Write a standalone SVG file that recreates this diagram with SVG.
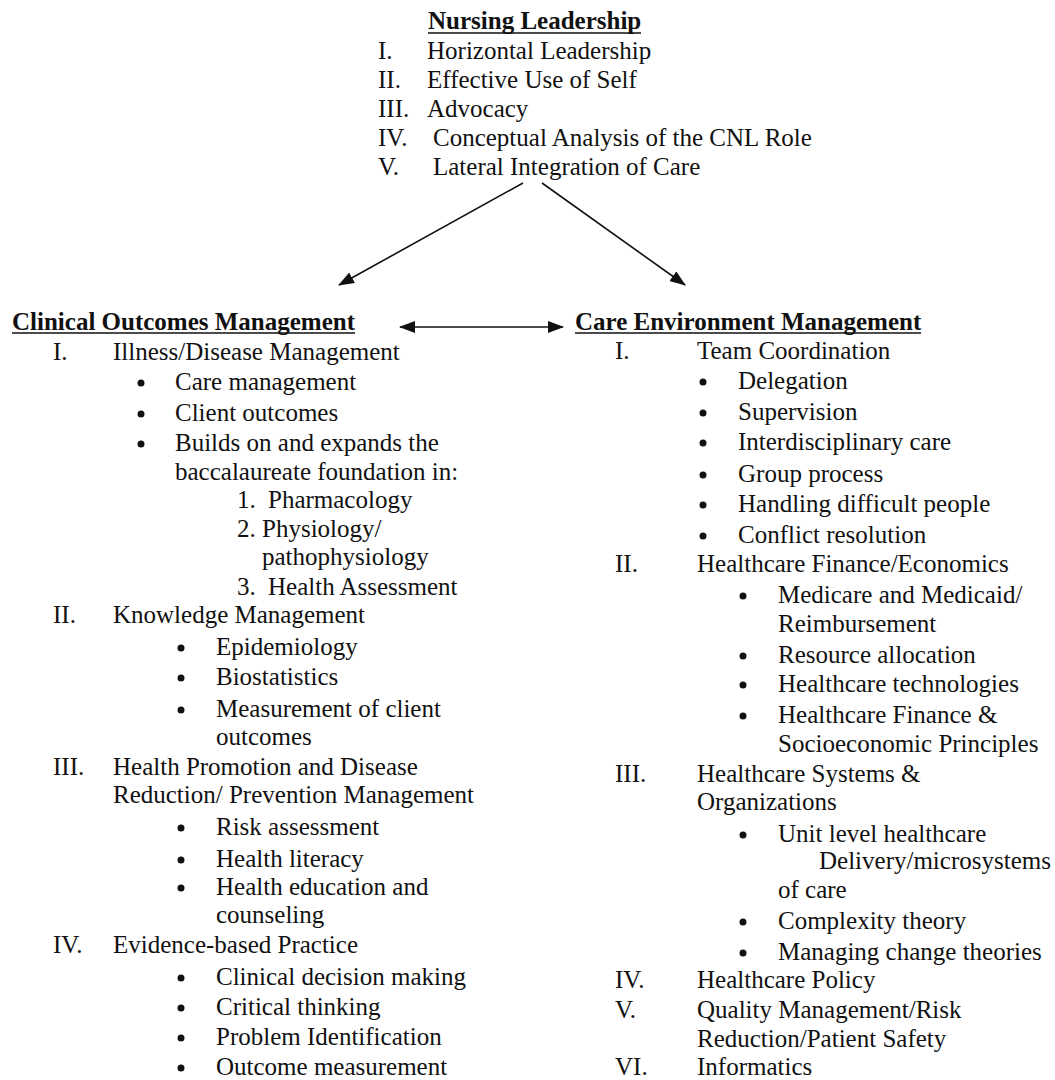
<svg xmlns="http://www.w3.org/2000/svg" width="1055" height="1080" viewBox="0 0 1055 1080">
<style>
text{font-family:"Liberation Serif","Times New Roman",serif;font-size:25px;fill:#111}
.b{font-weight:bold}
.ul{stroke:#111;stroke-width:1.6}
.con{stroke:#111;stroke-width:1.6;fill:none}
.dot{fill:#111}
</style>
<defs>
<marker id="ah" markerUnits="userSpaceOnUse" markerWidth="16" markerHeight="12" refX="15" refY="6" orient="auto-start-reverse">
<path d="M0,0 L16,6 L0,12 Z" fill="#111"/>
</marker>
</defs>
<rect width="1055" height="1080" fill="#fff"/>
<g id="connectors">
<line class="con" x1="523" y1="183" x2="339" y2="285" marker-end="url(#ah)"/>
<line class="con" x1="542" y1="183" x2="685" y2="285" marker-end="url(#ah)"/>
<line class="con" x1="400" y1="327" x2="563" y2="327" marker-start="url(#ah)" marker-end="url(#ah)"/>
</g>
<g id="nursing-leadership">
<text class="b" x="428" y="29">Nursing Leadership</text>
<line class="ul" x1="428" y1="33" x2="641" y2="33"/>
<text x="378" y="59">I.</text><text x="427" y="59">Horizontal Leadership</text>
<text x="378" y="88">II.</text><text x="427" y="88">Effective Use of Self</text>
<text x="378" y="117">III.</text><text x="427" y="117">Advocacy</text>
<text x="378" y="146">IV.</text><text x="433" y="146">Conceptual Analysis of the CNL Role</text>
<text x="378" y="175">V.</text><text x="433" y="175">Lateral Integration of Care</text>
</g>
<g id="clinical-outcomes-management">
<text class="b" x="12" y="330">Clinical Outcomes Management</text>
<line class="ul" x1="12" y1="333" x2="355" y2="333"/>
<text x="53" y="360">I.</text><text x="113" y="360">Illness/Disease Management</text>
<circle class="dot" cx="141" cy="383" r="3.5"/><text x="175" y="390">Care management</text>
<circle class="dot" cx="141" cy="414" r="3.5"/><text x="175" y="421">Client outcomes</text>
<circle class="dot" cx="141" cy="444" r="3.5"/><text x="175" y="451">Builds on and expands the</text>
<text x="175" y="480">baccalaureate foundation in:</text>
<text x="237" y="508">1.</text><text x="268" y="508">Pharmacology</text>
<text x="237" y="537">2.</text><text x="262" y="537">Physiology/</text>
<text x="262" y="565">pathophysiology</text>
<text x="237" y="595">3.</text><text x="268" y="595">Health Assessment</text>
<text x="53" y="623">II.</text><text x="113" y="623">Knowledge Management</text>
<circle class="dot" cx="181" cy="648" r="3.5"/><text x="216" y="655">Epidemiology</text>
<circle class="dot" cx="181" cy="678" r="3.5"/><text x="216" y="685">Biostatistics</text>
<circle class="dot" cx="181" cy="710" r="3.5"/><text x="216" y="717">Measurement of client</text>
<text x="216" y="745">outcomes</text>
<text x="53" y="775">III.</text><text x="113" y="775">Health Promotion and Disease</text>
<text x="113" y="803">Reduction/ Prevention Management</text>
<circle class="dot" cx="181" cy="828" r="3.5"/><text x="216" y="835">Risk assessment</text>
<circle class="dot" cx="181" cy="860" r="3.5"/><text x="216" y="867">Health literacy</text>
<circle class="dot" cx="181" cy="888" r="3.5"/><text x="216" y="895">Health education and</text>
<text x="216" y="923">counseling</text>
<text x="53" y="953">IV.</text><text x="113" y="953">Evidence-based Practice</text>
<circle class="dot" cx="181" cy="978" r="3.5"/><text x="216" y="985">Clinical decision making</text>
<circle class="dot" cx="181" cy="1008" r="3.5"/><text x="216" y="1015">Critical thinking</text>
<circle class="dot" cx="181" cy="1038" r="3.5"/><text x="216" y="1045">Problem Identification</text>
<circle class="dot" cx="181" cy="1068" r="3.5"/><text x="216" y="1075">Outcome measurement</text>
</g>
<g id="care-environment-management">
<text class="b" x="575" y="330">Care Environment Management</text>
<line class="ul" x1="575" y1="333" x2="921" y2="333"/>
<text x="615" y="359">I.</text><text x="697" y="359">Team Coordination</text>
<circle class="dot" cx="703" cy="382" r="3.5"/><text x="738" y="389">Delegation</text>
<circle class="dot" cx="703" cy="413" r="3.5"/><text x="738" y="420">Supervision</text>
<circle class="dot" cx="703" cy="443" r="3.5"/><text x="738" y="450">Interdisciplinary care</text>
<circle class="dot" cx="703" cy="475" r="3.5"/><text x="738" y="482">Group process</text>
<circle class="dot" cx="703" cy="505" r="3.5"/><text x="738" y="512">Handling difficult people</text>
<circle class="dot" cx="703" cy="536" r="3.5"/><text x="738" y="543">Conflict resolution</text>
<text x="615" y="572">II.</text><text x="697" y="572">Healthcare Finance/Economics</text>
<circle class="dot" cx="743" cy="596" r="3.5"/><text x="778" y="603">Medicare and Medicaid/</text>
<text x="778" y="632">Reimbursement</text>
<circle class="dot" cx="743" cy="656" r="3.5"/><text x="778" y="663">Resource allocation</text>
<circle class="dot" cx="743" cy="685" r="3.5"/><text x="778" y="692">Healthcare technologies</text>
<circle class="dot" cx="743" cy="716" r="3.5"/><text x="778" y="723">Healthcare Finance &amp;</text>
<text x="778" y="752">Socioeconomic Principles</text>
<text x="615" y="782">III.</text><text x="697" y="782">Healthcare Systems &amp;</text>
<text x="697" y="810">Organizations</text>
<circle class="dot" cx="743" cy="835" r="3.5"/><text x="778" y="842">Unit level healthcare</text>
<text x="819" y="869">Delivery/microsystems</text>
<text x="778" y="898">of care</text>
<circle class="dot" cx="743" cy="922" r="3.5"/><text x="778" y="929">Complexity theory</text>
<circle class="dot" cx="743" cy="953" r="3.5"/><text x="778" y="960">Managing change theories</text>
<text x="615" y="988">IV.</text><text x="697" y="988">Healthcare Policy</text>
<text x="615" y="1018">V.</text><text x="697" y="1018">Quality Management/Risk</text>
<text x="697" y="1047">Reduction/Patient Safety</text>
<text x="615" y="1075">VI.</text><text x="697" y="1075">Informatics</text>
</g>
</svg>
